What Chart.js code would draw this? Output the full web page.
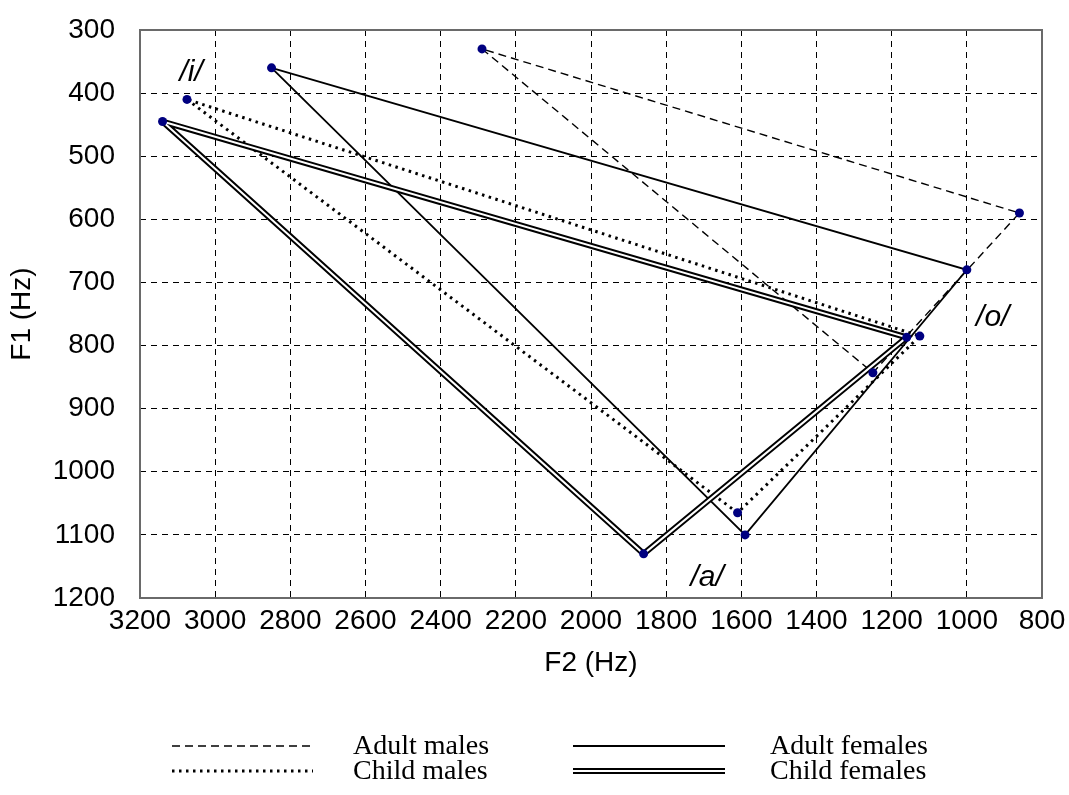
<!DOCTYPE html>
<html>
<head>
<meta charset="utf-8">
<title>Vowel triangles F1/F2</title>
<script src="https://cdn.jsdelivr.net/npm/chart.js@4.4.1/dist/chart.umd.min.js"></script>
<style>
  html, body { margin: 0; padding: 0; background: #fff; }
  #wrap { width: 1069px; height: 795px; }
</style>
</head>
<body>
<div id="wrap"><canvas id="vowels" width="1069" height="795"></canvas></div>
<script>
  // formant values (Hz) per speaker group, vertices in order /i/, /a/, /o/
  const vowels = ['/i/', '/a/', '/o/'];
  const adultMaleF2 = [2290, 1250, 860];
  const adultMaleF1 = [330, 843, 590];
  const adultFemaleF2 = [2850, 1590, 1000];
  const adultFemaleF1 = [360, 1100, 680];
  const childMaleF2 = [3075, 1610, 1125];
  const childMaleF1 = [410, 1065, 785];
  const childFemaleF2 = [3140, 1860, 1160];
  const childFemaleF1 = [445, 1130, 787];

  const seriesNames = ['Adult males', 'Adult females', 'Child males', 'Child females'];

  // where the vowel names sit, in F2/F1 units
  const vowelLabelF2 = [3064, 1691, 931];
  const vowelLabelF1 = [367, 1167, 756];

  const xTicks = { min: 800, max: 3200, step: 200 };
  const yTicks = { min: 300, max: 1200, step: 100 };

  const SANS = '"Liberation Sans", Arial, sans-serif';
  const SERIF = '"Liberation Serif", "Times New Roman", serif';
  const DOT_COLOR = '#000080';

  // closed triangle: i -> a -> o -> i
  function loop(f2, f1) {
    const pts = f2.map((x, i) => ({ x, y: f1[i] }));
    pts.push(pts[0]);
    return pts;
  }

  function vertices() {
    const all = [];
    [[adultMaleF2, adultMaleF1], [adultFemaleF2, adultFemaleF1],
     [childMaleF2, childMaleF1], [childFemaleF2, childFemaleF1]].forEach(([f2, f1]) => {
      f2.forEach((x, i) => all.push({ x, y: f1[i] }));
    });
    return all;
  }

  const lineBase = { showLine: true, pointRadius: 0, pointHoverRadius: 0, fill: false, tension: 0, borderColor: '#000' };

  const datasets = [
    { label: 'vertices', data: vertices(), showLine: false, pointRadius: 4.5, pointBackgroundColor: DOT_COLOR, pointBorderColor: DOT_COLOR, pointBorderWidth: 0, order: 0 },
    Object.assign({}, lineBase, { label: seriesNames[3] + ' inner', data: loop(childFemaleF2, childFemaleF1), borderColor: '#fff', borderWidth: 2, order: 1 }),
    Object.assign({}, lineBase, { label: seriesNames[3], data: loop(childFemaleF2, childFemaleF1), borderWidth: 6, order: 2 }),
    Object.assign({}, lineBase, { label: seriesNames[0], data: loop(adultMaleF2, adultMaleF1), borderWidth: 1.4, borderDash: [8, 5], order: 3 }),
    Object.assign({}, lineBase, { label: seriesNames[1], data: loop(adultFemaleF2, adultFemaleF1), borderWidth: 1.8, order: 3 }),
    Object.assign({}, lineBase, { label: seriesNames[2], data: loop(childMaleF2, childMaleF1), borderWidth: 3, borderDash: [2.5, 4.5], borderCapStyle: 'butt', order: 3 })
  ];

  // solid frame round the plot area, drawn over the dashed edge grid lines
  const frame = {
    id: 'frame',
    beforeDatasetsDraw(chart) {
      const { ctx, chartArea: a } = chart;
      ctx.save();
      ctx.strokeStyle = '#6a6a6a';
      ctx.lineWidth = 2;
      ctx.strokeRect(a.left, a.top, a.right - a.left, a.bottom - a.top);
      ctx.restore();
    }
  };

  const vowelLabels = {
    id: 'vowelLabels',
    afterDatasetsDraw(chart) {
      const { ctx, scales } = chart;
      ctx.save();
      ctx.font = 'italic 30px ' + SANS;
      ctx.fillStyle = '#000';
      ctx.textAlign = 'center';
      ctx.textBaseline = 'middle';
      vowels.forEach((v, i) => {
        ctx.fillText(v, scales.x.getPixelForValue(vowelLabelF2[i]), scales.y.getPixelForValue(vowelLabelF1[i]));
      });
      ctx.restore();
    }
  };

  // two-column key under the axis title
  const key = {
    id: 'key',
    afterDraw(chart) {
      const ctx = chart.ctx;
      const cols = [{ x0: 172, x1: 313, tx: 353 }, { x0: 573, x1: 725, tx: 770 }];
      const rows = [746, 771];
      const styles = [
        (c) => { c.lineWidth = 1.6; c.setLineDash([8, 5]); },
        (c) => { c.lineWidth = 2; },
        (c) => { c.lineWidth = 3; c.setLineDash([2.5, 4.5]); },
        null
      ];
      ctx.save();
      seriesNames.forEach((name, i) => {
        const col = cols[i % 2];
        const y = rows[Math.floor(i / 2)];
        ctx.save();
        ctx.strokeStyle = '#000';
        if (styles[i]) {
          styles[i](ctx);
          ctx.beginPath(); ctx.moveTo(col.x0, y); ctx.lineTo(col.x1, y); ctx.stroke();
        } else {
          ctx.lineWidth = 6;
          ctx.beginPath(); ctx.moveTo(col.x0, y); ctx.lineTo(col.x1, y); ctx.stroke();
          ctx.strokeStyle = '#fff';
          ctx.lineWidth = 2;
          ctx.beginPath(); ctx.moveTo(col.x0 - 1, y); ctx.lineTo(col.x1 + 1, y); ctx.stroke();
        }
        ctx.restore();
        ctx.font = '28px ' + SERIF;
        ctx.fillStyle = '#000';
        ctx.textBaseline = 'middle';
        ctx.fillText(name, col.tx, y + 1);
      });
      ctx.restore();
    }
  };

  const gridStyle = { color: '#000', lineWidth: 1, drawTicks: false };
  const borderStyle = { display: false, dash: [6, 5] };
  const plain = (v) => String(v);

  new Chart(document.getElementById('vowels'), {
    type: 'scatter',
    data: { datasets },
    options: {
      responsive: false,
      animation: false,
      devicePixelRatio: 1,
      layout: { padding: { top: 30, right: 27, bottom: 115, left: 0 } },
      plugins: { legend: { display: false }, tooltip: { enabled: false } },
      scales: {
        x: {
          type: 'linear',
          reverse: true,
          min: xTicks.min,
          max: xTicks.max,
          grid: gridStyle,
          border: borderStyle,
          ticks: { stepSize: xTicks.step, callback: plain, color: '#000', padding: 6, maxRotation: 0, autoSkip: false, font: { family: SANS, size: 28 } },
          title: { display: true, text: 'F2 (Hz)', color: '#000', padding: { top: 0, bottom: 0 }, font: { family: SANS, size: 28 } },
          afterFit(scale) {
            scale.height = 82;
            scale.paddingLeft = 0;
            scale.paddingRight = 0;
          }
        },
        y: {
          type: 'linear',
          reverse: true,
          min: yTicks.min,
          max: yTicks.max,
          grid: gridStyle,
          border: borderStyle,
          ticks: { stepSize: yTicks.step, callback: plain, color: '#000', padding: 25, font: { family: SANS, size: 28 } },
          title: { display: true, text: 'F1 (Hz)', color: '#000', padding: { top: 5, bottom: 0 }, font: { family: SANS, size: 28 } },
          afterFit(scale) {
            scale.width = 140;
            scale.paddingTop = 0;
            scale.paddingBottom = 0;
          }
        }
      }
    },
    plugins: [frame, vowelLabels, key]
  });
</script>
</body>
</html>
